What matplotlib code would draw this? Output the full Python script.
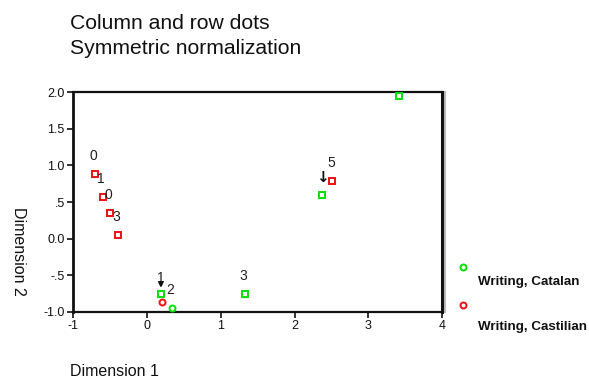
import matplotlib
matplotlib.use("Agg")
import matplotlib.pyplot as plt
from matplotlib.lines import Line2D

# Correspondence analysis coordinates (Dimension 1, Dimension 2)
catalan_x = [-0.50, 0.19, 0.34, 1.33, 2.37, 3.42]
catalan_y = [0.35, -0.75, -0.95, -0.75, 0.59, 1.95]
catalan_labels = ["", "1", "2", "3", "4", ""]
catalan_marker = ["s", "s", "o", "s", "s", "s"]

castilian_x = [-0.70, -0.60, -0.50, -0.39, 0.21, 2.51]
castilian_y = [0.88, 0.57, 0.35, 0.05, -0.87, 0.79]
castilian_labels = ["0", "1", "0", "3", "", "5"]
castilian_marker = ["s", "s", "s", "s", "o", "s"]

x_ticks = [-1, 0, 1, 2, 3, 4]
x_ticklabels = ["-1", "0", "1", "2", "3", "4"]
y_ticks = [-1.0, -0.5, 0.0, 0.5, 1.0, 1.5, 2.0]
y_ticklabels = ["-1.0", "-.5", "0.0", ".5", "1.0", "1.5", "2.0"]

GREEN = "#00e000"
RED = "#ee1111"

plt.rcParams["font.family"] = ["Liberation Sans", "DejaVu Sans"]

fig = plt.figure(figsize=(5.89, 3.79), dpi=100)
ax = fig.add_axes([0.124, 0.177, 0.627, 0.580])

def draw_series(xs, ys, labels, markers, color):
    for x, y, lab, m in zip(xs, ys, labels, markers):
        ax.plot([x], [y], linestyle="none", marker=m, markersize=4.3,
                markerfacecolor="white", markeredgecolor=color,
                markeredgewidth=1.4, clip_on=False, zorder=3)
        if lab == "4":
            ax.annotate("\u2193", (x, y), xytext=(0, 13), textcoords="offset points",
                        ha="center", va="center", fontsize=11, fontweight="bold",
                        family=["DejaVu Sans"], color="#111111", zorder=4)
        elif lab == "1" and color == GREEN:
            ax.annotate(lab, (x, y), xytext=(0, 11), textcoords="offset points",
                        ha="center", va="center", fontsize=10, color="#222222",
                        zorder=4)
            ax.annotate("", (x, y + 0.04), xytext=(x, y + 0.2),
                        arrowprops=dict(arrowstyle="-|>", color="#111111",
                                        lw=1.4, mutation_scale=6), zorder=4)
        elif lab:
            ax.annotate(lab, (x, y), xytext=(-1, 13), textcoords="offset points",
                        ha="center", va="center", fontsize=10, color="#222222",
                        zorder=4)

draw_series(catalan_x, catalan_y, catalan_labels, catalan_marker, GREEN)
draw_series(castilian_x, castilian_y, castilian_labels, castilian_marker, RED)

ax.set_xlim(-1, 4)
ax.set_ylim(-1, 2)
ax.set_xticks(x_ticks)
ax.set_xticklabels(x_ticklabels)
ax.set_yticks(y_ticks)
ax.set_yticklabels(y_ticklabels)
ax.tick_params(axis="both", direction="out", length=4, width=1.2,
               labelsize=9, colors="#111111", pad=2)

for side, w in [("left", 2.0), ("bottom", 1.6), ("top", 1.6), ("right", 2.2)]:
    ax.spines[side].set_linewidth(w)
    ax.spines[side].set_color("#111111")

# soft shadow along the right edge of the frame
ax.plot([1.006, 1.006], [0, 1], transform=ax.transAxes, color="#bbbbbb",
        lw=1.5, clip_on=False, zorder=1)

fig.text(70 / 589, 1 - 372 / 379, "Dimension 1", fontsize=11.5,
         color="#111111", va="center", ha="left")
fig.text(18 / 589, 1 - 251 / 379, "Dimension 2", fontsize=11.5,
         rotation=270, color="#111111", va="center", ha="center")

fig.text(70 / 589, 1 - 29 / 379, "Column and row dots", fontsize=15.2,
         color="#111111", va="baseline")
fig.text(70 / 589, 1 - 54 / 379, "Symmetric normalization", fontsize=15.2,
         color="#111111", va="baseline")

# legend entries placed to the right of the plot
for yy, ty, col, txt in [(267, 282, GREEN, "Writing, Catalan"),
                         (305, 327, RED, "Writing, Castilian")]:
    fig.add_artist(Line2D([463 / 589], [1 - yy / 379], transform=fig.transFigure,
                          marker="o", markersize=4.3, markerfacecolor="white",
                          markeredgecolor=col, markeredgewidth=1.4,
                          linestyle="none"))
    fig.text(478 / 589, 1 - ty / 379, txt, fontsize=9.6, fontweight="bold",
             color="#111111", va="center", ha="left")

fig.savefig("out.png", dpi=100, facecolor="white")
